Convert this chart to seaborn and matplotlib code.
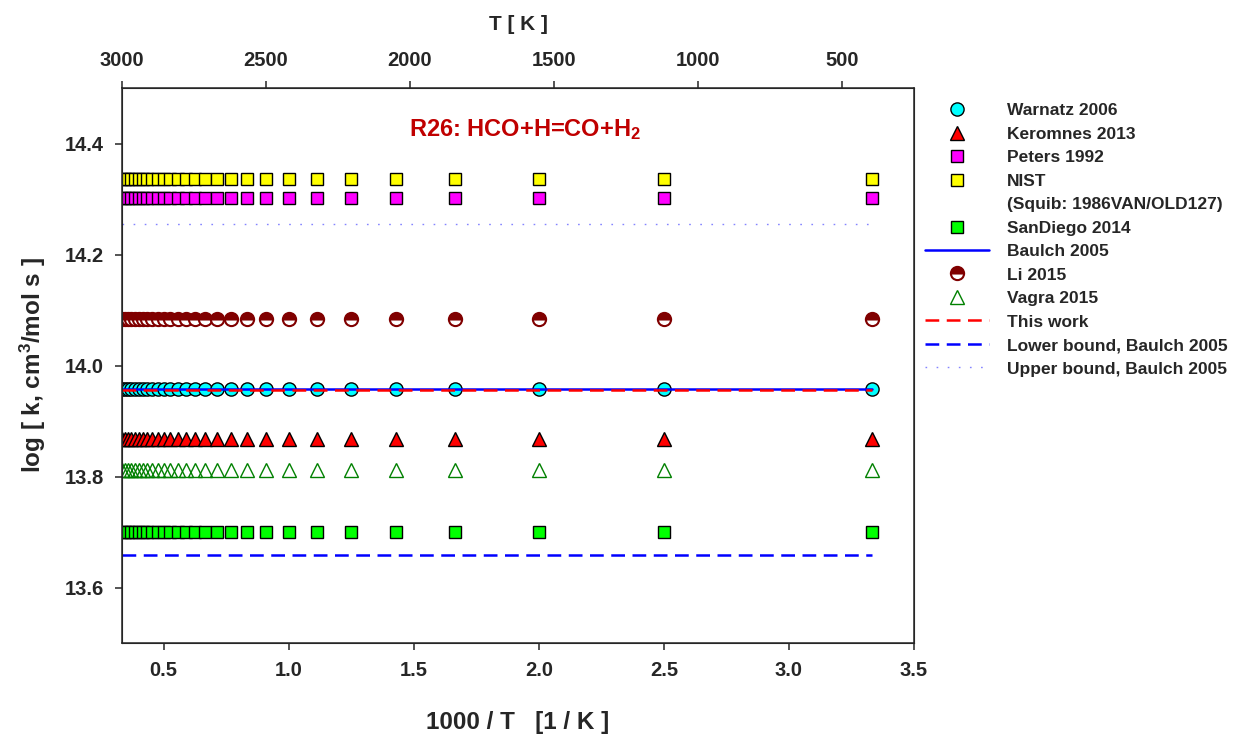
import numpy as np
import pandas as pd
import matplotlib
matplotlib.use("Agg")
import matplotlib.pyplot as plt
from matplotlib.lines import Line2D
import seaborn as sns

# --- datos ---
temperatura = [300, 400, 500, 600, 700, 800, 900, 1000, 1100, 1200, 1300, 1400,
               1500, 1600, 1700, 1800, 1900, 2000, 2100, 2200, 2300, 2400, 2500,
               2600, 2700, 2800, 2900, 3000]

logk_warnatz = 13.958
logk_keromnes = 13.868
logk_peters = 14.302
logk_nist = 14.336
logk_sandiego = 13.700
logk_baulch = 13.957
logk_li = 14.083
logk_vagra = 13.811
logk_this_work = 13.956
logk_lower = 13.658
logk_upper = 14.255

top_ticks = [3000, 2500, 2000, 1500, 1000, 500]
bottom_ticks = [0.5, 1.0, 1.5, 2.0, 2.5, 3.0, 3.5]
y_ticks = [13.6, 13.8, 14.0, 14.2, 14.4]

sns.set_style("ticks")
plt.rcParams['font.family'] = ['Liberation Sans', 'DejaVu Sans']
plt.rcParams['font.weight'] = 'bold'
plt.rcParams['mathtext.fontset'] = 'custom'
plt.rcParams['mathtext.rm'] = 'Liberation Sans:bold'
plt.rcParams['mathtext.bf'] = 'Liberation Sans:bold'
plt.rcParams['mathtext.it'] = 'Liberation Sans:bold'
plt.rcParams['mathtext.default'] = 'rm'

df = pd.DataFrame({'T': temperatura})
df['x'] = 1000.0 / df['T']

fig = plt.figure(figsize=(12.33, 7.35), dpi=100)
ax = fig.add_axes([122 / 1233, 1 - 643 / 735, (914 - 122) / 1233, (643 - 88) / 735])


def serie(valor, **kws):
    kws.setdefault('markeredgecolor', 'black')
    kws.setdefault('markeredgewidth', 1.0)
    sns.lineplot(x=df['x'], y=[valor] * len(df), ax=ax, errorbar=None, **kws)
    return ax.lines[-1]


h = {}
h['Warnatz 2006'] = serie(logk_warnatz, linestyle='none', marker='o', markersize=9.5,
                          color='#00FFFF', markerfacecolor='#00FFFF')
h['Keromnes 2013'] = serie(logk_keromnes, linestyle='none', marker='^', markersize=10,
                           color='red', markerfacecolor='red')
h['Peters 1992'] = serie(logk_peters, linestyle='none', marker='s', markersize=9,
                         color='#FF00FF', markerfacecolor='#FF00FF')
h['NIST'] = serie(logk_nist, linestyle='none', marker='s', markersize=9,
                  color='yellow', markerfacecolor='yellow')
h['SanDiego 2014'] = serie(logk_sandiego, linestyle='none', marker='s', markersize=9,
                           color='#00FF00', markerfacecolor='#00FF00')
h['Baulch 2005'] = serie(logk_baulch, color='#0000FF', linewidth=1.8, marker=None)
h['Li 2015'] = serie(logk_li, linestyle='none', marker='o', markersize=9.5,
                     color='#800000', markerfacecolor='#800000', fillstyle='top',
                     markerfacecoloralt='white', markeredgecolor='#800000',
                     markeredgewidth=1.5)
h['Vagra 2015'] = serie(logk_vagra, linestyle='none', marker='^', markersize=10,
                        color='#008000', markerfacecolor='none',
                        markeredgecolor='#008000')
h['This work'] = serie(logk_this_work, color='red', linewidth=1.8, marker=None,
                       dashes=(5.5, 3))
h['Lower bound, Baulch 2005'] = serie(logk_lower, color='#0000FF', linewidth=1.8,
                                      marker=None, dashes=(5.5, 3))
h['Upper bound, Baulch 2005'] = serie(logk_upper, color='#5050FF', linewidth=1.0,
                                      marker=None, alpha=0.7, dashes=(1.2, 6.8))

if ax.get_legend() is not None:
    ax.get_legend().remove()

ax.set_xlim(1000 / 3000, 3.5)
ax.set_ylim(13.5, 14.5)
ax.set_xticks(bottom_ticks)
ax.set_xticklabels([f"{v:.1f}" for v in bottom_ticks])
ax.set_yticks(y_ticks)
ax.set_yticklabels([f"{v:.1f}" for v in y_ticks])
ax.tick_params(axis='both', direction='out', length=5, width=1.1, labelsize=14.5, pad=8)
ax.tick_params(axis='y', pad=8)
for s in ax.spines.values():
    s.set_linewidth(1.1)
    s.set_visible(True)
ax.set_xlabel('1000 / T   [1 / K ]', fontsize=17.5, fontweight='bold', labelpad=22)
ax.set_ylabel('log [ k, cm$^3$/mol s ]', fontsize=17.5, fontweight='bold', labelpad=12)

ax2 = ax.twiny()
ax2.set_xlim(3000, 250)
ax2.set_xticks(top_ticks)
ax2.set_xticklabels([str(v) for v in top_ticks])
ax2.tick_params(axis='x', direction='out', length=5, width=1.1, labelsize=14.5, pad=8)
ax2.set_xlabel('T [ K ]', fontsize=15, fontweight='bold', labelpad=15)

ax.text(1.945, 14.425, 'R26: HCO+H=CO+H$_2$', color='#C00000', fontsize=17,
        fontweight='bold', ha='center', va='center')

orden = ['Warnatz 2006', 'Keromnes 2013', 'Peters 1992', 'NIST', None,
         'SanDiego 2014', 'Baulch 2005', 'Li 2015', 'Vagra 2015', 'This work',
         'Lower bound, Baulch 2005', 'Upper bound, Baulch 2005']
handles, labels = [], []
for k in orden:
    if k is None:
        handles.append(Line2D([], [], linestyle='none', marker=None))
        labels.append('(Squib: 1986VAN/OLD127)')
    else:
        handles.append(h[k])
        labels.append(k)

fig.legend(handles, labels, loc='upper left', bbox_to_anchor=(925 / 1233, 1 - 103 / 735),
           frameon=False, handlelength=3.7, handletextpad=1.0,
           labelspacing=0.48, borderpad=0, borderaxespad=0,
           prop={'weight': 'bold', 'size': 12.5})

fig.savefig('out.png', dpi=100)
